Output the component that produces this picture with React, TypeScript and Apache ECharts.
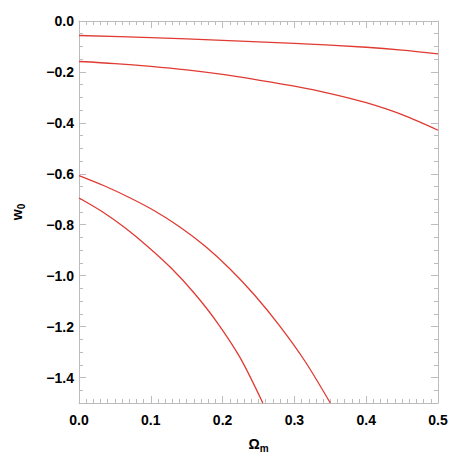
import React, { useEffect, useRef } from "react";
import * as echarts from "echarts";

// Curves: [Omega_m, w0]
const curveA: number[][] = [
  [0, -0.057], [0.1, -0.065], [0.2, -0.076], [0.3, -0.088], [0.4, -0.103], [0.45, -0.114], [0.5, -0.129],
];
const curveB: number[][] = [
  [0, -0.159], [0.05, -0.167], [0.1, -0.178], [0.15, -0.192], [0.2, -0.21], [0.25, -0.232],
  [0.3, -0.256], [0.35, -0.285], [0.4, -0.321], [0.45, -0.368], [0.5, -0.429],
];
const curveC: number[][] = [
  [0, -0.607], [0.035, -0.647], [0.07, -0.693], [0.105, -0.745], [0.14, -0.808], [0.175, -0.883],
  [0.21, -0.973], [0.245, -1.078], [0.28, -1.199], [0.315, -1.337], [0.35, -1.5],
];
const curveD: number[][] = [
  [0, -0.695], [0.032, -0.748], [0.064, -0.812], [0.096, -0.886], [0.128, -0.969], [0.16, -1.067],
  [0.192, -1.182], [0.224, -1.32], [0.256, -1.5],
];

const yMajorTicks = [-1.4, -1.2, -1.0, -0.8, -0.6, -0.4, -0.2, 0.0];
const yMinorTicks = [
  -1.45, -1.35, -1.3, -1.25, -1.15, -1.1, -1.05, -0.95, -0.9, -0.85, -0.75, -0.7, -0.65,
  -0.55, -0.5, -0.45, -0.35, -0.3, -0.25, -0.15, -0.1, -0.05,
];

const AXIS = "#bcbcbc";
const FONT = "Liberation Sans";
const RED = "#e03a32";

const fmt = (v: number) => {
  const s = Math.abs(v) < 1e-9 ? "0.0" : v.toFixed(1);
  return s.replace("-", "\u2212");
};

export default function App() {
  const ref = useRef<HTMLDivElement>(null);
  useEffect(() => {
    if (!ref.current) return;
    const chart = echarts.init(ref.current, undefined, { renderer: "svg" });
    const labelStyle = { color: "#000", fontSize: 14, fontWeight: "bold" as const, fontFamily: FONT };
    const xBase = (pos: "top" | "bottom") => ({
      type: "value" as const,
      position: pos,
      min: 0,
      max: 0.5,
      interval: 0.1,
      axisLine: { show: true, onZero: false, lineStyle: { color: AXIS, width: 1 } },
      axisTick: { show: true, inside: true, length: 7, lineStyle: { color: AXIS } },
      minorTick: { show: true, splitNumber: 10, length: 4, lineStyle: { color: AXIS } },
      splitLine: { show: false },
      minorSplitLine: { show: false },
    });
    const yBase = (pos: "left" | "right", major: boolean) => ({
      type: "value" as const,
      position: pos,
      min: -1.5,
      max: 0,
      axisLine: { show: major, onZero: false, lineStyle: { color: AXIS, width: 1 } },
      axisTick: {
        show: true,
        inside: true,
        length: major ? 7 : 4,
        customValues: major ? yMajorTicks : yMinorTicks,
        lineStyle: { color: AXIS },
      },
      splitLine: { show: false },
      axisLabel: { show: false },
    });
    const mkSeries = (d: number[][]) => ({
      type: "line" as const,
      data: d,
      xAxisIndex: 0,
      yAxisIndex: 0,
      smooth: 0.3,
      showSymbol: false,
      symbol: "none",
      lineStyle: { color: RED, width: 1.3 },
    });
    const rich = {
      a: { fontSize: 14, fontWeight: "bold", fontFamily: FONT, color: "#000", lineHeight: 18 },
      b: { fontSize: 10, fontWeight: "bold", fontFamily: FONT, color: "#000", padding: [8, 0, 0, 0], lineHeight: 18 },
    };
    chart.setOption({
      animation: false,
      backgroundColor: "#fff",
      grid: { left: 68, right: 20, top: 21, bottom: 44, containLabel: false },
      xAxis: [
        {
          ...xBase("bottom"),
          axisLabel: { ...labelStyle, margin: 10, formatter: fmt },
          name: "{a|\u03a9}{b|m}",
          nameLocation: "middle",
          nameGap: 32,
          nameTextStyle: { rich },
        },
        { ...xBase("top"), axisLabel: { show: false } },
      ],
      yAxis: [
        {
          ...yBase("left", true),
          axisLabel: { ...labelStyle, show: true, margin: 5, customValues: yMajorTicks, formatter: fmt },
          name: "{a|w}{b|0}",
          nameLocation: "middle",
          nameRotate: 90,
          nameGap: 53,
          nameTextStyle: { rich },
        },
        yBase("left", false),
        yBase("right", true),
        yBase("right", false),
      ],
      series: [mkSeries(curveA), mkSeries(curveB), mkSeries(curveC), mkSeries(curveD)],
    });
    return () => chart.dispose();
  }, []);
  return <div ref={ref} style={{ width: 458, height: 458, position: "absolute", left: 0, top: 0 }} />;
}
